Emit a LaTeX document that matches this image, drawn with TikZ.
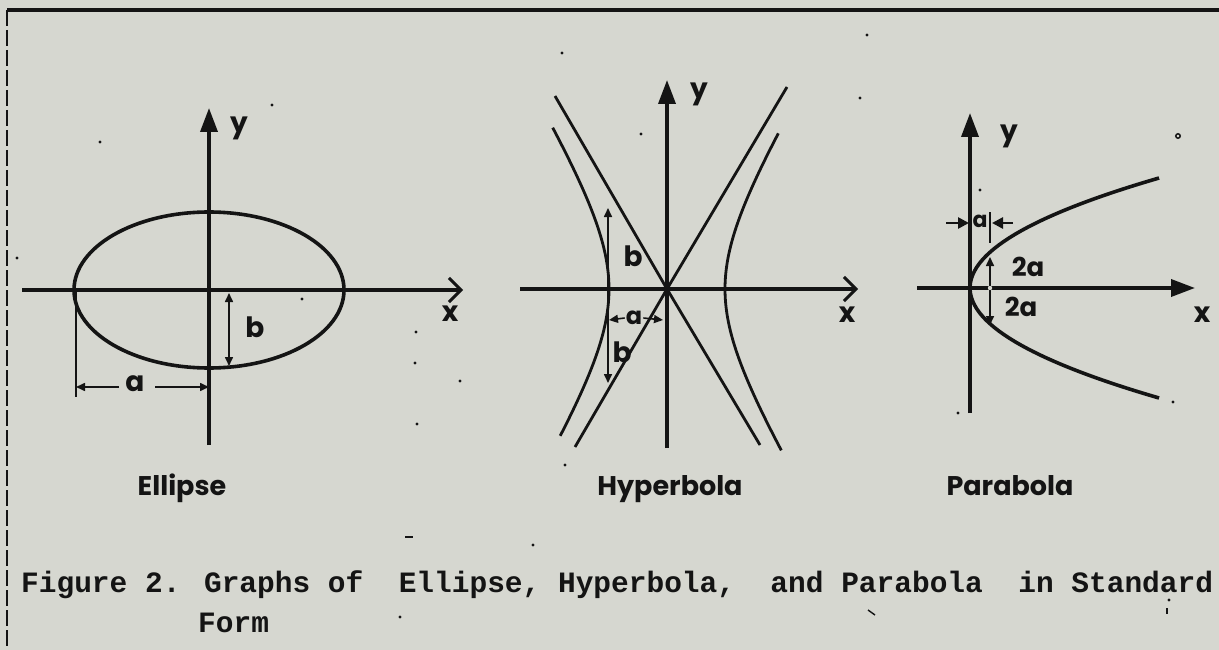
\documentclass[tikz,border=0pt]{standalone}
\usepackage{fontspec}
\setmainfont{Poppins}
\newfontfamily\capfont{Liberation Mono}
\usetikzlibrary{arrows.meta}
\definecolor{paper}{RGB}{214,215,208}
\definecolor{ink}{RGB}{20,20,20}
\begin{document}
\begin{tikzpicture}[x=1pt,y=-1pt,
  axisline/.style={draw=ink,line width=3.6pt},
  heavycurve/.style={draw=ink,line width=3.6pt},
  hypcurve/.style={draw=ink,line width=2.8pt},
  dimline/.style={draw=ink,line width=1.6pt},
  tickstroke/.style={draw=ink,line width=1.2pt},
  lbl/.style={text=ink,font=\fontsize{28}{28}\selectfont\bfseries,inner sep=0pt},
  namelbl/.style={text=ink,font=\fontsize{27}{27}\selectfont\bfseries,inner sep=0pt,anchor=base},
  caplbl/.style={text=ink,font=\capfont\bfseries\fontsize{29.5}{29.5}\selectfont,inner sep=0pt,anchor=base west},
  speck/.style={fill=ink,draw=none},
  ytip/.tip={Triangle[length=24pt,width=17pt]},
  xbarb/.tip={Straight Barb[length=12pt,width=24pt,line width=3pt]},
  xtri/.tip={Triangle[length=24pt,width=17pt]},
  dtip/.tip={Triangle[length=9pt,width=8pt]}
]
\useasboundingbox (0,0) rectangle (1219,650);
\fill[paper] (0,0) rectangle (1219,650);

% frame
\coordinate (fTL) at (7,10);
\coordinate (fTR) at (1219,10);
\coordinate (fBL) at (7,650);
\draw[ink,line width=3.2pt] (fTL) -- (fTR);
\draw[ink,line width=2.4pt,dash pattern=on 16pt off 4pt] (fTL) -- (fBL);

% ---------------- Ellipse ----------------
\coordinate (eO) at (209,290);
\coordinate (eYb) at (209,445);
\coordinate (eYt) at (209,108);
\coordinate (eXl) at (22,290);
\coordinate (eXr) at (463,290);
\draw[axisline,-{ytip}] (eYb) -- (eYt);
\draw[axisline,-{xbarb}] (eXl) -- (eXr);
\draw[heavycurve] (eO) ellipse [x radius=135, y radius=78];
\node[lbl] (eXlab) at (450,314) {x};
\node[lbl] (eYlab) at (239,128) {y};
% b
\coordinate (eB1) at (229,293);
\coordinate (eB2) at (229,366);
\draw[dimline,{dtip}-{dtip}] (eB1) -- (eB2);
\node[lbl] (eBlab) at (255,327) {b};
% a
\coordinate (eAt) at (76,292);
\coordinate (eAb) at (76,397);
\draw[tickstroke] (eAt) -- (eAb);
\node[lbl] (eAlab) at (135,384) {a};
\coordinate (eA1) at (76,387);
\coordinate (eA2) at (209,387);
\coordinate (eAl) at (119,387);
\coordinate (eAr) at (155,387);
\draw[dimline,-{dtip}] (eAl) -- (eA1);
\draw[dimline,-{dtip}] (eAr) -- (eA2);
\node[namelbl] (eName) at (182,495) {Ellipse};

% ---------------- Hyperbola ----------------
\coordinate (hO) at (667,289);
\coordinate (hYb) at (667,448);
\coordinate (hYt) at (667,80);
\coordinate (hXl) at (520,289);
\coordinate (hXr) at (858,289);
\draw[axisline,-{ytip}] (hYb) -- (hYt);
\draw[axisline,-{xbarb}] (hXl) -- (hXr);
\coordinate (hA1) at (555,96);
\coordinate (hA2) at (760,445);
\coordinate (hA3) at (787,87);
\coordinate (hA4) at (575,447);
\draw[hypcurve] (hA1) -- (hO) -- (hA2);
\draw[hypcurve] (hA3) -- (hO) -- (hA4);
\fill[ink] (hO) circle (4);
\draw[hypcurve] plot[domain=-1.22:1.30,samples=60,smooth] ({667-58*cosh(\x)},{289-95*sinh(\x)});
\draw[hypcurve] plot[domain=-1.30:1.27,samples=60,smooth] ({667+58*cosh(\x)},{289-95*sinh(\x)});
% b dims
\coordinate (hB1) at (608,208);
\coordinate (hB2) at (608,383);
\draw[dimline,{dtip}-{dtip}] (hB1) -- (hB2);
\node[lbl] (hBlab1) at (633,256) {b};
\node[lbl] (hBlab2) at (622,352) {b};
% a dim
\node[lbl,fill=paper,inner sep=1pt,font=\fontsize{24}{24}\selectfont\bfseries] (hAlab) at (634,318) {a};
\coordinate (hAl) at (609,320);
\coordinate (hAr) at (663,320);
\draw[dimline,-{dtip}] (hAlab.west) -- (hAl);
\draw[dimline,-{dtip}] (hAlab.east) -- (hAr);
\node[namelbl] (hName) at (670,495) {Hyperbola};
\node[lbl] (hXlab) at (847,315) {x};
\node[lbl] (hYlab) at (699,94) {y};

% ---------------- Parabola ----------------
\coordinate (pO) at (970,288);
\coordinate (pYb) at (970,413);
\coordinate (pYt) at (970,113);
\coordinate (pXl) at (917,288);
\coordinate (pXr) at (1195,288);
\draw[axisline,-{ytip}] (pYb) -- (pYt);
\draw[axisline,-{xtri}] (pXl) -- (pXr);
\draw[heavycurve] plot[domain=-110:110,samples=60,smooth] ({970+\x*\x/64},{288+\x});
% focus marks
\coordinate (pF) at (990,288);
\coordinate (pFu) at (990,257);
\coordinate (pFd) at (990,325);
\draw[dimline,-{dtip}] (pF) -- (pFu);
\draw[dimline,-{dtip}] (pF) -- (pFd);
\fill[paper] (990,288) circle (2.2);
\node[lbl,font=\fontsize{26}{26}\selectfont\bfseries] (p2a1) at (1028,267) {2a};
\node[lbl,font=\fontsize{26}{26}\selectfont\bfseries] (p2a2) at (1021,307) {2a};
% a dim at top
\coordinate (pT1) at (990,212);
\coordinate (pT2) at (990,243);
\draw[tickstroke] (pT1) -- (pT2);
\node[lbl,font=\fontsize{22}{22}\selectfont\bfseries] (pAlab) at (980,221) {a};
\coordinate (pAl0) at (946,223);
\coordinate (pAl1) at (969,223);
\coordinate (pAr0) at (1013,223);
\coordinate (pAr1) at (992,223);
\draw[dimline,line width=2.6pt,-{Triangle[length=11pt,width=11pt]}] (pAl0) -- (pAl1);
\draw[dimline,line width=2.6pt,-{Triangle[length=11pt,width=11pt]}] (pAr0) -- (pAr1);
\node[namelbl] (pName) at (1010,495) {Parabola};
\node[lbl] (pXlab) at (1202,315) {x};
\node[lbl] (pYlab) at (1009,136) {y};

% ---------------- caption ----------------
\node[caplbl] (c1) at (21,592) {Figure 2. Graphs of~ Ellipse, Hyperbola,~ and Parabola~ in Standard};
\node[caplbl] (c2) at (198,632) {Form};

% specks
\foreach \p in {(100,142),(17,258),(302,299),(416,332),(415,363),(460,381),(417,424),(272,105),
  (562,53),(867,35),(860,98),(641,134),(565,465),(1173,402),(958,413),(980,190),(533,545),(400,617),(1169,600)}
  \fill[speck] \p circle (1.6);
\draw[ink,line width=1.5pt] (1178,136) circle (2.2);
\draw[ink,line width=1.6pt] (405,537) -- (413,537);
\draw[ink,line width=1.4pt] (868,610) -- (875,615);
\draw[ink,line width=1.4pt] (1167,608) -- (1167,614);
\end{tikzpicture}
\end{document}
